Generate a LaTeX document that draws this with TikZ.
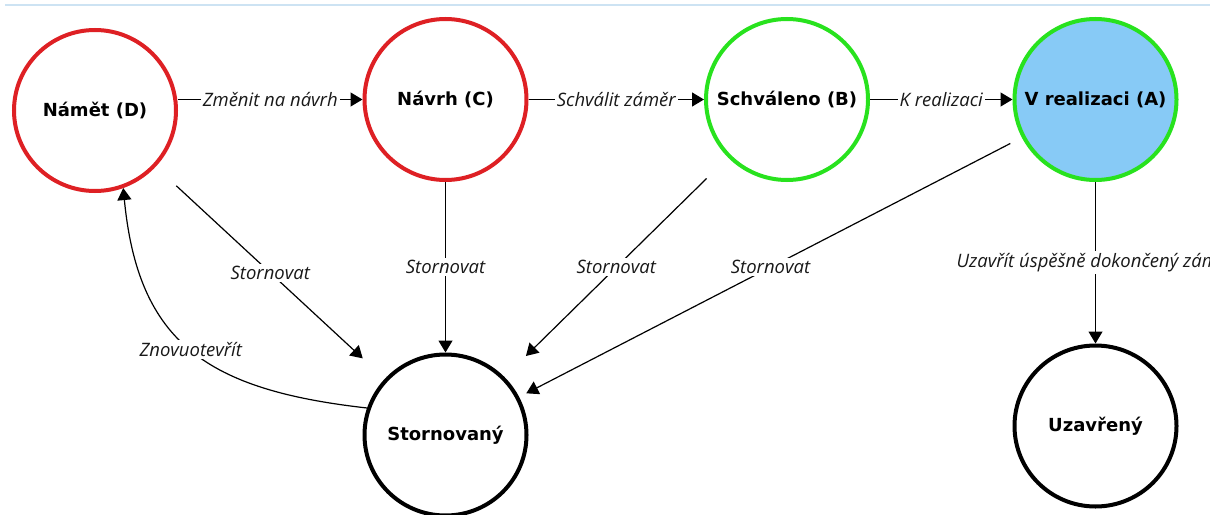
\documentclass[tikz,border=0pt]{standalone}
\usepackage{fontspec}
\setmainfont{DejaVu Sans}
\newfontfamily\lblfont{Open Sans}
\usetikzlibrary{shapes.geometric,arrows.meta}
\definecolor{redc}{RGB}{222,32,36}
\definecolor{greenc}{RGB}{40,226,30}
\definecolor{bluefill}{RGB}{135,202,246}
\definecolor{topline}{RGB}{205,227,243}
\newcommand\ntext[1]{\makebox[0pt]{#1}}
\tikzset{
 state/.style={ellipse, draw, line width=4pt, minimum width=162pt, minimum height=161pt, inner sep=0pt, font=\bfseries\fontsize{18}{20}\selectfont},
 edge/.style={line width=1.2pt, -{Triangle[length=12pt,width=14pt]}},
 lbl/.style={fill=white, inner sep=2pt, font=\lblfont\itshape\fontsize{18.5}{20}\selectfont, text=black!90},
}
\begin{document}
\begin{tikzpicture}[x=1pt,y=-1pt]
\fill[white] (0,0) rectangle (1210,514);
\useasboundingbox (0,0) rectangle (1210,514);
\draw[topline, line width=1.5pt] (5,5) -- (1210,5);

\node[state, draw=redc] (D) at (95,110.5) {\ntext{Námět (D)}};
\node[state, draw=redc] (C) at (445.5,99.5) {\ntext{Návrh (C)}};
\node[state, draw=greenc] (B) at (787,99.5) {\ntext{Schváleno (B)}};
\node[state, draw=greenc, fill=bluefill] (A) at (1095.5,99.5) {\ntext{V realizaci (A)}};
\node[state, draw=black] (S) at (445.5,435) {\ntext{Stornovaný}};
\node[state, draw=black] (U) at (1095.5,426) {\ntext{Uzavřený}};

\draw[edge] (C.west -| D.east) -- node[lbl]{Změnit na návrh} (C.west);
\draw[edge] (C.east) -- node[lbl]{Schválit záměr} (B.west);
\draw[edge] (B.east) -- node[lbl]{K realizaci} (A.west);
\draw[edge, shorten <=28pt, shorten >=30pt] (D) -- node[lbl]{Stornovat} (S);
\draw[edge] (C) -- node[lbl]{Stornovat} (S);
\draw[edge, shorten <=30pt, shorten >=30pt] (B) -- node[lbl]{Stornovat} (S);
\draw[edge, shorten <=13pt, shorten >=8pt] (A) -- node[lbl]{Stornovat} (S);
\draw[edge] (A) -- node[lbl]{Uzavřít úspěšně dokončený záměr} (U);
\draw[edge] (S.161) .. controls +(-160,-18) and +(15,155) .. node[lbl, pos=0.5]{Znovuotevřít} (D.-70);
\end{tikzpicture}
\end{document}
